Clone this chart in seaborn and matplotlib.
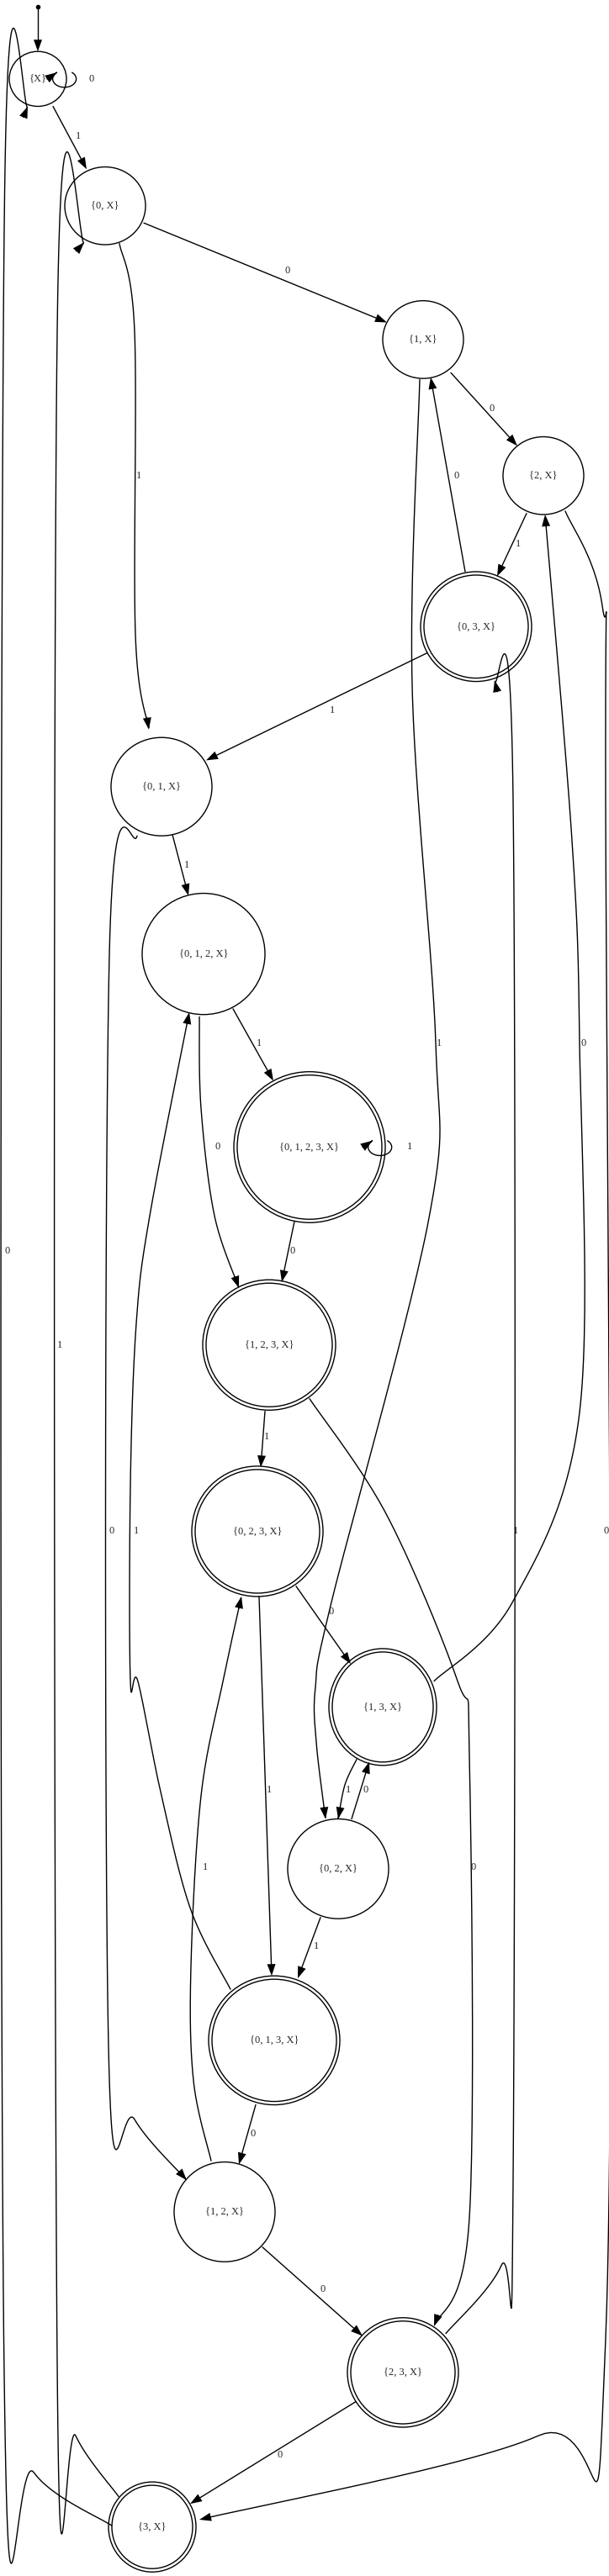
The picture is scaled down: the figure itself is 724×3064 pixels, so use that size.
import numpy as np
import matplotlib
matplotlib.use("Agg")
import matplotlib.pyplot as plt
import seaborn as sns
from matplotlib.patches import Ellipse

sns.set_style("white")
plt.rcParams['font.family'] = ['Liberation Serif', 'DejaVu Serif']

# states of the automaton
states = ['{X}', '{0, X}', '{1, X}', '{2, X}', '{0, 3, X}', '{0, 1, X}', '{0, 1, 2, X}',
          '{0, 1, 2, 3, X}', '{1, 2, 3, X}', '{0, 2, 3, X}', '{1, 3, X}', '{0, 2, X}',
          '{0, 1, 3, X}', '{1, 2, X}', '{2, 3, X}', '{3, X}']
accepting = ['{0, 3, X}', '{0, 1, 2, 3, X}', '{1, 2, 3, X}', '{0, 2, 3, X}', '{1, 3, X}',
             '{0, 1, 3, X}', '{2, 3, X}', '{3, X}']
# transitions: (source, target, symbol)
edge_src = ['{X}', '{X}', '{0, X}', '{0, X}', '{1, X}', '{1, X}', '{2, X}', '{2, X}',
            '{0, 3, X}', '{0, 3, X}', '{0, 1, X}', '{0, 1, X}', '{0, 1, 2, X}', '{0, 1, 2, X}',
            '{0, 1, 2, 3, X}', '{0, 1, 2, 3, X}', '{1, 2, 3, X}', '{1, 2, 3, X}',
            '{0, 2, 3, X}', '{0, 2, 3, X}', '{1, 3, X}', '{1, 3, X}', '{0, 2, X}', '{0, 2, X}',
            '{0, 1, 3, X}', '{0, 1, 3, X}', '{1, 2, X}', '{1, 2, X}', '{2, 3, X}', '{2, 3, X}',
            '{3, X}', '{3, X}']
edge_dst = ['{X}', '{0, X}', '{1, X}', '{0, 1, X}', '{2, X}', '{0, 2, X}', '{0, 3, X}', '{3, X}',
            '{1, X}', '{0, 1, X}', '{0, 1, 2, X}', '{1, 2, X}', '{0, 1, 2, 3, X}', '{1, 2, 3, X}',
            '{0, 1, 2, 3, X}', '{1, 2, 3, X}', '{0, 2, 3, X}', '{2, 3, X}',
            '{1, 3, X}', '{0, 1, 3, X}', '{2, X}', '{0, 2, X}', '{1, 3, X}', '{0, 1, 3, X}',
            '{0, 1, 2, X}', '{1, 2, X}', '{0, 2, 3, X}', '{2, 3, X}', '{0, 3, X}', '{3, X}',
            '{X}', '{0, X}']
edge_sym = ['0', '1', '0', '1', '0', '1', '1', '0', '0', '1', '1', '0', '1', '0', '1', '0',
            '1', '0', '0', '1', '0', '1', '0', '1', '1', '0', '1', '0', '1', '0', '0', '1']

# layout read in crop units: centre x, centre y, rx, ry (y remapped below)
layout = {
    '{X}': (45, 69, 34, 24), '{0, X}': (125, 180, 48, 34), '{1, X}': (503, 297, 48, 34),
    '{2, X}': (646, 416, 48, 34), '{0, 3, X}': (566, 548, 66, 48),
    '{0, 1, X}': (192, 688, 60, 43), '{0, 1, 2, X}': (242, 1099, 73, 53),
    '{0, 1, 2, 3, X}': (368, 1268, 90, 66), '{1, 2, 3, X}': (320, 1441, 79, 57),
    '{0, 2, 3, X}': (306, 1604, 78, 57), '{1, 3, X}': (455, 2021, 64, 48),
    '{0, 2, X}': (402, 2154, 60, 41), '{0, 1, 3, X}': (326, 2295, 78, 53),
    '{1, 2, X}': (267, 2436, 60, 41), '{2, 3, X}': (479, 2568, 66, 45),
    '{3, X}': (181, 2695, 52, 37),
}
routes = [
    None,
    [(63, 93), (103, 148)],
    [(171, 195), (460, 282)],
    [(142, 213), (160, 290), (161, 555), (177, 638)],
    [(536, 326), (615, 390)],
    [(499, 332), (490, 600), (518, 1177), (510, 1330), (394, 1666), (375, 1740), (376, 2050), (387, 2113)],
    [(626, 449), (591, 504)],
    [(672, 447), (716, 530), (720, 700), (720, 2540), (640, 2620), (237, 2689)],
    [(553, 500), (512, 330)],
    [(508, 571), (245, 665)],
    [(205, 730), (224, 1048)],
    [(163, 731), (130, 1100), (129, 2300), (160, 2360), (222, 2410)],
    [(277, 1147), (325, 1210)],
    [(237, 1154), (239, 1234), (255, 1328), (284, 1391)],
    None,
    [(350, 1333), (335, 1386)],
    [(315, 1499), (310, 1548)],
    [(368, 1488), (460, 1590), (544, 1735), (558, 2061), (558, 2441), (516, 2530)],
    [(352, 1652), (417, 1720)],
    [(308, 1661), (323, 2242)],
    [(516, 1735), (610, 1665), (689, 1500), (689, 1177), (680, 735), (648, 450)],
    [(424, 2064), (410, 2085), (402, 2113)],
    [(418, 2113), (439, 2066)],
    [(381, 2194), (354, 2244)],
    [(274, 2253), (227, 2188), (192, 2094), (164, 2000), (155, 1735), (155, 1563), (162, 1422), (178, 1328), (225, 1150)],
    [(304, 2348), (284, 2397)],
    [(251, 2394), (230, 2328), (227, 2234), (239, 2094), (265, 2000), (287, 1661)],
    [(312, 2465), (431, 2538)],
    [(530, 2536), (596, 2480), (610, 2410), (610, 700), (588, 595)],
    [(423, 2592), (226, 2676)],
    [(133, 2694), (40, 2650), (5, 2570), (5, 200), (33, 93)],
    [(141, 2670), (90, 2620), (68, 2560), (68, 290), (100, 212)],
]
label_pos = [(109, 69), (93, 119), (342, 237), (165, 416), (585, 357), (522, 1177), (616, 476),
             (721, 1604), (543, 416), (395, 621), (222, 1021), (133, 1604), (308, 1177),
             (259, 1268), (487, 1268), (348, 1359), (317, 1521), (563, 2153), (394, 1674),
             (320, 2089), (694, 1177), (414, 2089), (435, 2089), (376, 2218), (162, 1604),
             (301, 2372), (244, 2153), (384, 2500), (613, 1604), (333, 2636), (9, 1359),
             (71, 1441)]


def ry_scale(y):
    return 1.447 if y >= 2000 else 1.36


def remap(y):
    # crop units -> image pixels
    if y >= 2000:
        return 2000 + (y - 2000) * 1.447
    if y >= 1000:
        return 1000 + (y - 1000) * 1.36
    return y * 1.36


def spline(pts, n=30):
    p = np.array(pts, dtype=float)
    if len(p) == 2:
        return p
    p = np.vstack([p[0], p, p[-1]])
    out = []
    for i in range(1, len(p) - 2):
        p0, p1, p2, p3 = p[i - 1], p[i], p[i + 1], p[i + 2]
        for t in np.linspace(0, 1, n, endpoint=False):
            out.append(0.5 * ((2 * p1) + (-p0 + p2) * t + (2 * p0 - 5 * p1 + 4 * p2 - p3) * t ** 2
                              + (-p0 + 3 * p1 - 3 * p2 + p3) * t ** 3))
    out.append(p[-2])
    return np.array(out)


def arrow(ax, pts):
    c = spline(pts)
    d = c[-1] - c[-2]
    d = d / np.hypot(*d)
    tip = c[-1]
    base = tip - d * 14
    ax.plot(np.append(c[:-1, 0], base[0]), np.append(c[:-1, 1], base[1]), color='black', lw=1)
    nrm = np.array([-d[1], d[0]])
    tri = np.array([tip, base + nrm * 5, base - nrm * 5])
    ax.fill(tri[:, 0], tri[:, 1], color='black', lw=0)


fig = plt.figure(figsize=(7.24, 30.64), dpi=100)
ax = fig.add_axes([0, 0, 1, 1])
ax.set_xlim(0, 724)
ax.set_ylim(3064, 0)
ax.axis('off')

pos = {}
for s in states:
    x, y, rx, ry = layout[s]
    pos[s] = (x, remap(y), rx, ry * ry_scale(y))
    x, y, rx, ry = pos[s]
    ax.add_patch(Ellipse((x, y), 2 * rx, 2 * ry, fill=False, lw=1, color='black'))
    if s in accepting:
        ax.add_patch(Ellipse((x, y), 2 * rx - 8, 2 * ry - 8, fill=False, lw=1, color='black'))
    ax.text(x, y, s, ha='center', va='center', fontsize=9)

# initial arrow
ax.plot([45], [8], 'o', color='black', ms=3)
arrow(ax, [(45, 8), (45, pos['{X}'][1] - pos['{X}'][3])])

for i in range(len(edge_sym)):
    if routes[i] is not None:
        arrow(ax, [(px, remap(py)) for px, py in routes[i]])
    else:
        x, y, rx, ry = pos[edge_src[i]]
        a = np.linspace(0.7, 2 * np.pi - 0.7, 40)
        lx = x + rx * 0.93 + 14 * np.sin(a)
        ly = y - 10 * np.cos(a)
        arrow(ax, list(zip(lx, ly)))
    ax.text(label_pos[i][0], remap(label_pos[i][1]), edge_sym[i], ha='center', va='center', fontsize=9)

fig.savefig('out.png', dpi=100)
